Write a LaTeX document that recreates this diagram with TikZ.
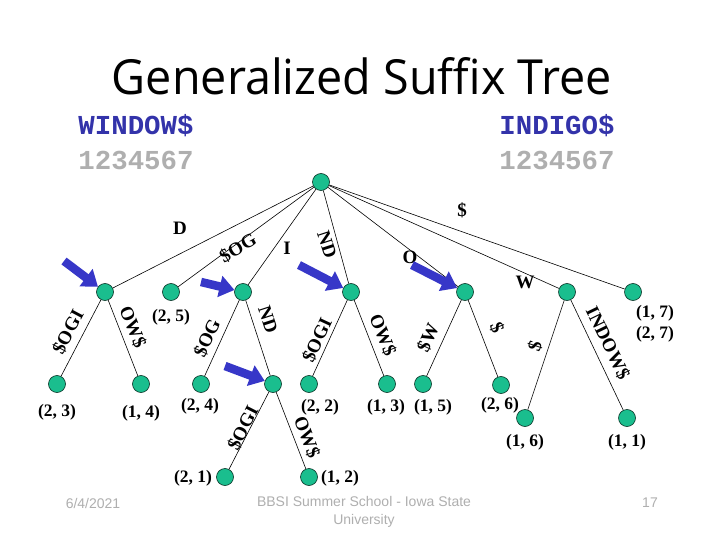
\documentclass[tikz,border=0pt]{standalone}
\usepackage{fontspec}
\setmainfont{Liberation Serif}
\newfontfamily\strfont{Liberation Mono}
\newfontfamily\ttlfont{Open Sans}
\newfontfamily\ftfont{Liberation Sans}
\usetikzlibrary{arrows.meta,calc}
\definecolor{nodegreen}{RGB}{26,190,142}
\definecolor{strblue}{RGB}{51,51,170}
\definecolor{arrowblue}{RGB}{55,55,200}
\definecolor{digitgray}{RGB}{175,175,175}
\definecolor{footgray}{RGB}{175,175,175}
\begin{document}
\begin{tikzpicture}[x=1pt,y=-1pt,
  tn/.style={circle,fill=nodegreen,draw=black!75!nodegreen,line width=0.6pt,minimum size=17pt,inner sep=0pt},
  edge/.style={draw=black,line width=0.6pt},
  lab/.style={font=\fontsize{17.5}{17.5}\selectfont\bfseries,inner sep=0pt},
  elab/.style={font=\fontsize{19}{19}\selectfont\bfseries,inner sep=0pt},
  ptr/.style={draw=arrowblue,line width=8.5pt,-{Triangle[width=21pt,length=15pt]}},
  strtext/.style={font=\strfont\bfseries\fontsize{27.4}{28}\selectfont,text=strblue,anchor=base,inner sep=0pt},
  digtext/.style={font=\strfont\bfseries\fontsize{27.4}{28}\selectfont,text=digitgray,anchor=base,inner sep=0pt},
  foot/.style={font=\ftfont\fontsize{14}{18}\selectfont,text=footgray,inner sep=0pt,align=center}
]
\fill[white] (0,0) rectangle (720,540);
\useasboundingbox (0,0) rectangle (720,540);

% title
\node[inner sep=0pt] (title) at (362,76.5) {\resizebox{500pt}{37pt}{\ttlfont Generalized Suffix Tree}};

% strings
\node[strtext] (s1) at (136,135) {WINDOW\$};
\node[digtext] (s1n) at (136,170) {1234567};
\node[strtext] (s2) at (557,135) {INDIGO\$};
\node[digtext] (s2n) at (557,170) {1234567};

% tree nodes
\node[tn] (root) at (321,182) {};
\node[tn] (nA) at (105,292) {};
\node[tn] (nB) at (171,292) {};
\node[tn] (nC) at (243,292) {};
\node[tn] (nD) at (351,292) {};
\node[tn] (nE) at (465,292) {};
\node[tn] (nW) at (567,292) {};
\node[tn] (nS) at (633,292) {};
\node[tn] (a1) at (57,384) {};
\node[tn] (a2) at (141,384) {};
\node[tn] (c1) at (201,384) {};
\node[tn] (nM) at (273,384) {};
\node[tn] (m1) at (225,477) {};
\node[tn] (m2) at (309,477) {};
\node[tn] (d1) at (309,384) {};
\node[tn] (d2) at (387,384) {};
\node[tn] (e1) at (423,384) {};
\node[tn] (e2) at (501,385) {};
\node[tn] (w1) at (525,418) {};
\node[tn] (w2) at (627,418) {};

% edges
\foreach \t in {nA,nB,nC,nD,nE,nW,nS} \draw[edge] (root) -- (\t);
\draw[edge] (nA) -- (a1);
\draw[edge] (nA) -- (a2);
\draw[edge] (nC) -- (c1);
\draw[edge] (nC) -- (nM);
\draw[edge] (nM) -- (m1);
\draw[edge] (nM) -- (m2);
\draw[edge] (nD) -- (d1);
\draw[edge] (nD) -- (d2);
\draw[edge] (nE) -- (e1);
\draw[edge] (nE) -- (e2);
\draw[edge] (nW) -- (w1);
\draw[edge] (nW) -- (w2);

% edge labels
\node[elab] (lD) at (180,228) {D};
\node[elab,rotate=30] (lSOG) at (238,248) {\$OG};
\node[elab] (lI) at (287,248) {I};
\node[elab,rotate=-72] (lND) at (327,245) {ND};
\node[elab] (lO) at (410,257) {O};
\node[elab] (lDol) at (462,210) {\$};
\node[elab] (lW) at (525,282) {W};
\node[elab,rotate=62] (la1) at (68,332) {\$OGI};
\node[elab,rotate=-68] (la2) at (133,327) {OW\$};
\node[elab,rotate=65] (lc1) at (207,338) {\$OG};
\node[elab,rotate=-72] (lc2) at (268,320) {ND};
\node[elab,rotate=63] (lm1) at (243,428) {\$OGI};
\node[elab,rotate=-69] (lm2) at (307,437) {OW\$};
\node[elab,rotate=65] (ld1) at (317,340) {\$OGI};
\node[elab,rotate=-68] (ld2) at (383,335) {OW\$};
\node[elab,rotate=65] (le1) at (428,338) {\$W};
\node[elab,rotate=-69] (le2) at (497,328) {\$};
\node[elab,rotate=72] (lw1) at (535,346) {\$};
\node[elab,rotate=-64] (lw2) at (608,343) {INDOW\$};

% leaf labels
\node[lab] (pB) at (171,317) {(2, 5)};
\node[lab] (pa1) at (57,412) {(2, 3)};
\node[lab] (pa2) at (141,413) {(1, 4)};
\node[lab] (pc1) at (200,406) {(2, 4)};
\node[lab] (pd1) at (320,407) {(2, 2)};
\node[lab] (pd2) at (386,407) {(1, 3)};
\node[lab] (pe1) at (433,407) {(1, 5)};
\node[lab] (pe2) at (500,405) {(2, 6)};
\node[lab] (pw1) at (525,442) {(1, 6)};
\node[lab] (pw2) at (627,442) {(1, 1)};
\node[lab,align=center] (pS) at (655,324) {(1, 7)\\[4pt](2, 7)};
\node[lab] (pm1) at (193,478) {(2, 1)};
\node[lab] (pm2) at (340,478) {(1, 2)};

% blue pointers
\coordinate (tA) at (64,261);
\coordinate (tC) at (201,282);
\coordinate (tM) at (225,366);
\coordinate (tD) at (299,265);
\coordinate (tE) at (412,265);
\draw[ptr] (tA) -- (nA);
\draw[ptr] (tC) -- (nC);
\draw[ptr] (tM) -- (nM);
\draw[ptr] (tD) -- (nD);
\draw[ptr] (tE) -- (nE);

% footer
\node[foot] (fdate) at (93,503) {6/4/2021};
\node[foot] (fmid) at (364,512) {BBSI Summer School - Iowa State\\University};
\node[foot] (fnum) at (650,503) {17};
\end{tikzpicture}
\end{document}
